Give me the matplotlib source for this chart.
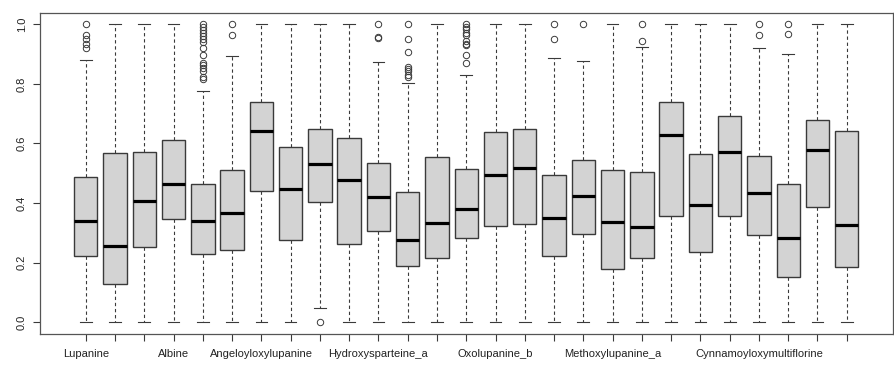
import matplotlib
matplotlib.use("Agg")
import matplotlib.pyplot as plt

plt.rcParams["font.family"] = ["Liberation Sans", "DejaVu Sans"]

# only every few names fit on the axis, the rest stay blank
labels = ["Lupanine", "", "", "Albine", "", "", "Angeloyloxylupanine", "", "",
          "", "Hydroxysparteine_a", "", "", "", "Oxolupanine_b", "", "", "",
          "Methoxylupanine_a", "", "", "", "", "Cynnamoyloxymultiflorine", "", "", ""]

q1 = [0.222, 0.128, 0.251, 0.346, 0.230, 0.241, 0.441, 0.277, 0.402,
      0.263, 0.307, 0.190, 0.215, 0.284, 0.324, 0.328, 0.221, 0.296,
      0.180, 0.214, 0.357, 0.236, 0.357, 0.291, 0.152, 0.386, 0.184]
med = [0.340, 0.256, 0.407, 0.465, 0.340, 0.368, 0.643, 0.447, 0.531,
       0.479, 0.420, 0.277, 0.334, 0.379, 0.494, 0.519, 0.348, 0.424,
       0.335, 0.321, 0.627, 0.392, 0.570, 0.432, 0.281, 0.579, 0.325]
q3 = [0.488, 0.569, 0.571, 0.613, 0.464, 0.511, 0.740, 0.589, 0.648,
      0.620, 0.533, 0.436, 0.554, 0.513, 0.639, 0.648, 0.494, 0.543,
      0.512, 0.505, 0.740, 0.566, 0.693, 0.558, 0.464, 0.678, 0.642]
whis_lo = [0.0, 0.0, 0.0, 0.0, 0.0, 0.0, 0.0, 0.0, 0.046,
           0.0, 0.0, 0.0, 0.0, 0.0, 0.0, 0.0, 0.0, 0.0,
           0.0, 0.0, 0.0, 0.0, 0.0, 0.0, 0.0, 0.0, 0.0]
whis_hi = [0.879, 1.0, 1.0, 1.0, 0.776, 0.895, 1.0, 1.0, 1.0,
           1.0, 0.873, 0.804, 1.0, 0.831, 1.0, 1.0, 0.886, 0.876,
           1.0, 0.923, 1.0, 1.0, 1.0, 0.922, 0.900, 1.0, 1.0]
outliers = [
    [1.0, 0.964, 0.95, 0.935, 0.92],
    [], [], [],
    [1.0, 0.99, 0.98, 0.97, 0.96, 0.95, 0.94, 0.92, 0.897, 0.872, 0.862,
     0.852, 0.845, 0.822, 0.818],
    [1.0, 0.966],
    [], [],
    [0.0],
    [],
    [1.0, 0.958, 0.955],
    [1.0, 0.952, 0.907, 0.858, 0.85, 0.842, 0.829, 0.822],
    [],
    [1.0, 0.99, 0.983, 0.972, 0.965, 0.945, 0.935, 0.93, 0.897, 0.872],
    [], [],
    [1.0, 0.952],
    [1.0],
    [],
    [1.0, 0.945],
    [], [], [],
    [1.0, 0.963],
    [1.0, 0.967],
    [], [],
]

stats = []
for i in range(len(labels)):
    stats.append({"med": med[i], "q1": q1[i], "q3": q3[i],
                  "whislo": whis_lo[i], "whishi": whis_hi[i],
                  "fliers": outliers[i]})

fig = plt.figure(figsize=(8.94, 3.68), dpi=100)
ax = fig.add_axes([39.5 / 894, 1 - 334 / 368, (893 - 39.5) / 894, (334 - 12.5) / 368])

edge = "#3a3a3a"
positions = list(range(1, len(labels) + 1))
ax.bxp(stats, positions=positions, widths=0.8, capwidths=0.4,
       patch_artist=True, showfliers=True,
       boxprops=dict(facecolor="#d3d3d3", edgecolor=edge, linewidth=1.0),
       medianprops=dict(color="black", linewidth=2.3, solid_capstyle="butt"),
       whiskerprops=dict(color=edge, linewidth=0.8, linestyle=(0, (3, 2.5))),
       capprops=dict(color=edge, linewidth=0.8),
       flierprops=dict(marker="o", markerfacecolor="none", markeredgecolor=edge,
                       markersize=4.6, markeredgewidth=0.7, linestyle="none"))

ax.set_xlim(-0.58, len(labels) + 1.58)
ax.set_ylim(-0.04, 1.04)
ax.set_xticks(positions)
ax.set_xticklabels(labels)
ax.set_yticks([0.0, 0.2, 0.4, 0.6, 0.8, 1.0])
ax.set_yticklabels(["0.0", "0.2", "0.4", "0.6", "0.8", "1.0"], rotation=90, va="center")
ax.tick_params(axis="both", length=5, width=0.8, color=edge, labelsize=8,
               labelcolor="#222222")
ax.tick_params(axis="x", pad=6)
ax.tick_params(axis="y", pad=4)
for sp in ax.spines.values():
    sp.set_color("#555555")
    sp.set_linewidth(0.9)

fig.savefig("out.png", dpi=100)
